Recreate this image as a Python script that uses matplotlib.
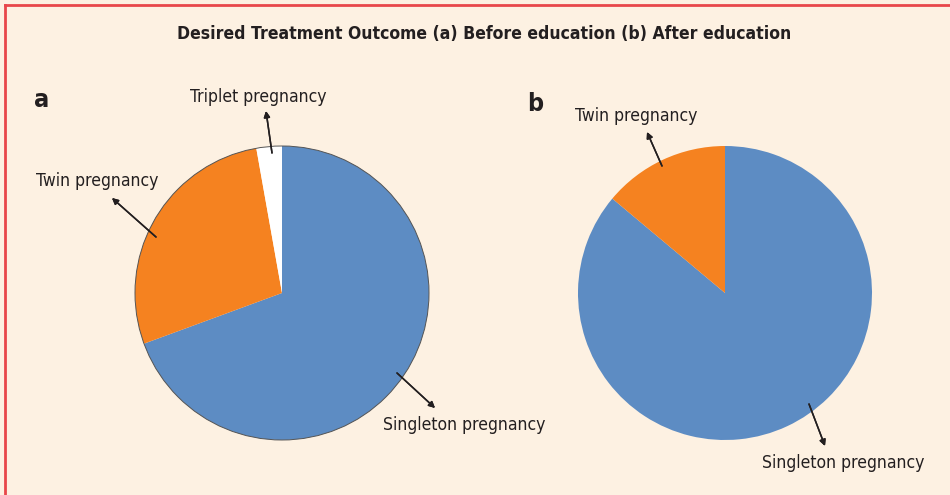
import matplotlib
matplotlib.use("Agg")
import matplotlib.pyplot as plt
from matplotlib import font_manager

# Data
labels_before = ["Singleton pregnancy", "Twin pregnancy", "Triplet pregnancy"]
values_before = [69.4, 27.8, 2.8]
labels_after = ["Singleton pregnancy", "Twin pregnancy"]
values_after = [86.1, 13.9]
colors = ["#5d8cc3", "#f58220", "#ffffff"]
title = "Desired Treatment Outcome (a) Before education (b) After education"

names = {f.name for f in font_manager.fontManager.ttflist}
if "Liberation Sans Narrow" in names:
    family, stretch, lab_size, title_size = "Liberation Sans Narrow", "normal", 14, 14
else:
    family, stretch, lab_size, title_size = "DejaVu Sans", "condensed", 12.6, 12.6
plt.rcParams["font.family"] = [family, "DejaVu Sans"]
plt.rcParams["font.stretch"] = stretch

W, H = 950, 495
bg = "#fdf1e2"
ink = "#231f20"
fig = plt.figure(figsize=(W / 100, H / 100), dpi=100, facecolor=bg)

# red frame on top and left
fig.add_artist(plt.Line2D([5 / W, 5 / W], [0, 1 - 5 / H], color="#e8474a", lw=2, transform=fig.transFigure))
fig.add_artist(plt.Line2D([5 / W, 1], [1 - 5 / H, 1 - 5 / H], color="#e8474a", lw=2, transform=fig.transFigure))

fig.text(484 / W, 1 - 34 / H, title, ha="center", va="center", fontsize=title_size,
         fontweight="bold", color=ink, fontstretch=stretch)


def pie_axes(cx, cy, r):
    ax = fig.add_axes([(cx - r) / W, (H - cy - r) / H, 2 * r / W, 2 * r / H])
    ax.set_xlim(-1, 1)
    ax.set_ylim(-1, 1)
    ax.axis("off")
    return ax


def px(x, y):
    return (x, H - y)


arrow = dict(arrowstyle="-|>", color=ink, lw=1.1, mutation_scale=9, shrinkA=0, shrinkB=0)


def label(name, tail, head, txt):
    fig.add_artist(plt.annotate("", xy=px(*head), xycoords="figure pixels",
                                xytext=px(*tail), textcoords="figure pixels",
                                arrowprops=arrow))
    fig.text(txt[0] / W, 1 - txt[1] / H, name, ha="center", va="center",
             fontsize=lab_size, color=ink, fontstretch=stretch)


# (a) before education
ax1 = pie_axes(282, 293, 147)
ax1.pie(values_before, colors=colors, startangle=90, counterclock=False,
        radius=1, frame=False, wedgeprops=dict(linewidth=0))
ax1.add_patch(plt.Circle((0, 0), 1, fill=False, ec="#555555", lw=0.7, clip_on=False))
ax1.set_xlim(-1, 1)
ax1.set_ylim(-1, 1)

label("Triplet pregnancy", (272, 153), (266, 111), (258, 97))
label("Twin pregnancy", (156, 237), (112, 198), (97, 181))
label("Singleton pregnancy", (397, 373), (435, 408), (464, 425))

# (b) after education
ax2 = pie_axes(725, 293, 147)
ax2.pie(values_after, colors=colors[:2], startangle=90, counterclock=False,
        radius=1, frame=False, wedgeprops=dict(linewidth=0))
ax2.set_xlim(-1, 1)
ax2.set_ylim(-1, 1)

label("Twin pregnancy", (662, 166), (647, 132), (636, 116))
label("Singleton pregnancy", (809, 404), (825, 446), (843, 463))

fig.text(42 / W, 1 - 100 / H, "a", ha="center", va="center", fontsize=18,
         fontweight="bold", color=ink, fontstretch=stretch)
fig.text(535 / W, 1 - 104 / H, "b", ha="center", va="center", fontsize=18,
         fontweight="bold", color=ink, fontstretch=stretch)

fig.savefig("out.png", dpi=100, facecolor=bg)
